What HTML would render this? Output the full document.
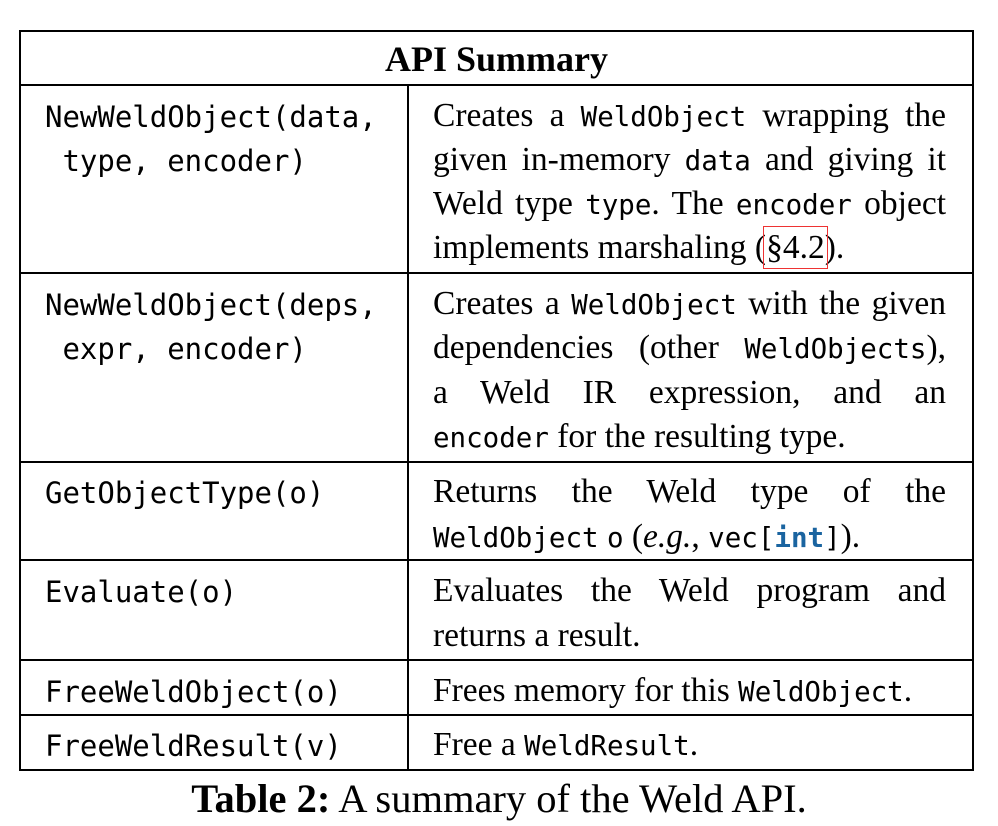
<!DOCTYPE html>
<html><head><meta charset="utf-8">
<style>
html,body{margin:0;padding:0;background:#fff;}
body{width:998px;height:826px;position:relative;overflow:hidden;font-family:"Liberation Serif",serif;color:#000;}
.l{position:absolute;height:44px;line-height:44px;white-space:nowrap;}
.r{left:433px;width:513px;font-size:33.5px;text-align:justify;text-align-last:justify;}
.r.last{text-align-last:left;}
.c{left:45px;font-family:"DejaVu Sans Mono","Liberation Mono",monospace;font-size:29px;}
code{font-family:"DejaVu Sans Mono","Liberation Mono",monospace;font-size:27.5px;}
.hl{position:absolute;left:20px;width:953px;height:2px;background:#000;}
.vl{position:absolute;width:2px;background:#000;}
</style></head><body>
<div>
<div class="hl" style="top:30px"></div>
<div class="hl" style="top:84px"></div>
<div class="hl" style="top:272px"></div>
<div class="hl" style="top:461px"></div>
<div class="hl" style="top:559px"></div>
<div class="hl" style="top:659px"></div>
<div class="hl" style="top:714px"></div>
<div class="hl" style="top:769px"></div>
<div class="vl" style="left:19px;top:30px;height:741px"></div>
<div class="vl" style="left:972px;top:30px;height:741px"></div>
<div class="vl" style="left:407px;top:84px;height:687px"></div>

<div class="l" style="left:20px;width:953px;top:37px;text-align:center;font-weight:bold;font-size:36px">API Summary</div>

<div class="l c" style="top:95px">NewWeldObject(data,</div>
<div class="l c" style="top:139px">&nbsp;type, encoder)</div>
<div class="l r" style="top:94px">Creates a <code>WeldObject</code> wrapping the</div>
<div class="l r" style="top:138px">given in-memory <code>data</code> and giving it</div>
<div class="l r" style="top:182px">Weld type <code>type</code>. The <code>encoder</code> object</div>
<div class="l r last" style="top:226px">implements marshaling (<span style="outline:1px solid #e33;outline-offset:2px">§4.2</span>).</div>

<div class="l c" style="top:283px">NewWeldObject(deps,</div>
<div class="l c" style="top:327px">&nbsp;expr, encoder)</div>
<div class="l r" style="top:282px">Creates a <code>WeldObject</code> with the given</div>
<div class="l r" style="top:326px">dependencies (other <code>WeldObjects</code>),</div>
<div class="l r" style="top:371px">a Weld IR expression, and an</div>
<div class="l r last" style="top:415px"><code>encoder</code> for the resulting type.</div>

<div class="l c" style="top:471px">GetObjectType(o)</div>
<div class="l r" style="top:470px">Returns the Weld type of the</div>
<div class="l r last" style="top:515px"><code>WeldObject</code> <code>o</code> (<i>e.g.</i>, <code>vec[<b style="color:#1a64a0">int</b>]</code>).</div>

<div class="l c" style="top:570px">Evaluate(o)</div>
<div class="l r" style="top:569px">Evaluates the Weld program and</div>
<div class="l r last" style="top:614px">returns a result.</div>

<div class="l c" style="top:670px">FreeWeldObject(o)</div>
<div class="l r last" style="top:669px">Frees memory for this <code>WeldObject</code>.</div>

<div class="l c" style="top:724px">FreeWeldResult(v)</div>
<div class="l r last" style="top:723px">Free a <code>WeldResult</code>.</div>
</div>

<div class="l" style="left:0;width:998px;top:777px;text-align:center;font-size:40.5px"><b>Table 2:</b> A summary of the Weld API.</div>
</body></html>
